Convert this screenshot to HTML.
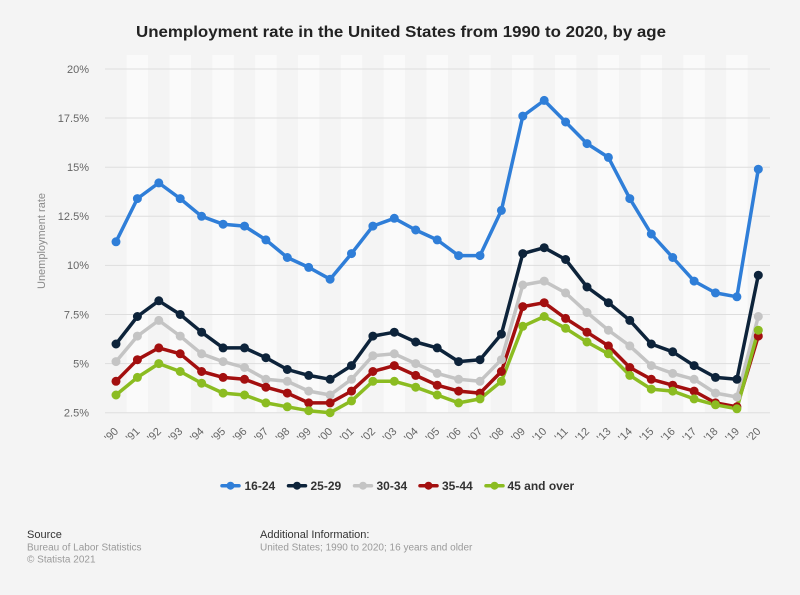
<!DOCTYPE html>
<html><head><meta charset="utf-8"><style>
html,body{margin:0;padding:0;background:#f4f4f4;}
svg{display:block;font-family:"Liberation Sans",Arial,sans-serif;}
</style></head><body>
<svg width="800" height="595" viewBox="0 0 800 595" xmlns="http://www.w3.org/2000/svg">
<rect x="0" y="0" width="800" height="595" fill="#f4f4f4"/>
<text x="401" y="37" text-anchor="middle" font-size="16" font-weight="bold" fill="#222" textLength="530" lengthAdjust="spacingAndGlyphs">Unemployment rate in the United States from 1990 to 2020, by age</text>

<!-- plot bands -->
<g fill="#fafafa">
<rect x="126.7" y="55" width="21.4" height="358"/>
<rect x="169.5" y="55" width="21.4" height="358"/>
<rect x="212.4" y="55" width="21.4" height="358"/>
<rect x="255.2" y="55" width="21.4" height="358"/>
<rect x="298.0" y="55" width="21.4" height="358"/>
<rect x="340.8" y="55" width="21.4" height="358"/>
<rect x="383.6" y="55" width="21.4" height="358"/>
<rect x="426.5" y="55" width="21.4" height="358"/>
<rect x="469.3" y="55" width="21.4" height="358"/>
<rect x="512.1" y="55" width="21.4" height="358"/>
<rect x="554.9" y="55" width="21.4" height="358"/>
<rect x="597.7" y="55" width="21.4" height="358"/>
<rect x="640.6" y="55" width="21.4" height="358"/>
<rect x="683.4" y="55" width="21.4" height="358"/>
<rect x="726.2" y="55" width="21.4" height="358"/>
</g>

<!-- grid -->
<g stroke="#dedede" stroke-width="1">
<line x1="105" y1="69" x2="770" y2="69"/>
<line x1="105" y1="118" x2="770" y2="118"/>
<line x1="105" y1="167.2" x2="770" y2="167.2"/>
<line x1="105" y1="216.3" x2="770" y2="216.3"/>
<line x1="105" y1="265.4" x2="770" y2="265.4"/>
<line x1="105" y1="314.5" x2="770" y2="314.5"/>
<line x1="105" y1="363.6" x2="770" y2="363.6"/>
<line x1="105" y1="412.7" x2="770" y2="412.7"/>
</g>

<!-- y labels -->
<g font-size="11" fill="#666" text-anchor="end">
<text x="89" y="73">20%</text>
<text x="89" y="122">17.5%</text>
<text x="89" y="171">15%</text>
<text x="89" y="220">12.5%</text>
<text x="89" y="269">10%</text>
<text x="89" y="318.5">7.5%</text>
<text x="89" y="367.5">5%</text>
<text x="89" y="416.5">2.5%</text>
</g>
<text transform="translate(45,241) rotate(-90)" text-anchor="middle" font-size="11" fill="#8a8a8a">Unemployment rate</text>

<!-- x labels -->
<g font-size="11" fill="#666" text-anchor="end">
<text transform="translate(119,432) rotate(-45)">'90</text>
<text transform="translate(140.4,432) rotate(-45)">'91</text>
<text transform="translate(161.8,432) rotate(-45)">'92</text>
<text transform="translate(183.2,432) rotate(-45)">'93</text>
<text transform="translate(204.6,432) rotate(-45)">'94</text>
<text transform="translate(226.1,432) rotate(-45)">'95</text>
<text transform="translate(247.5,432) rotate(-45)">'96</text>
<text transform="translate(268.9,432) rotate(-45)">'97</text>
<text transform="translate(290.3,432) rotate(-45)">'98</text>
<text transform="translate(311.7,432) rotate(-45)">'99</text>
<text transform="translate(333.1,432) rotate(-45)">'00</text>
<text transform="translate(354.5,432) rotate(-45)">'01</text>
<text transform="translate(375.9,432) rotate(-45)">'02</text>
<text transform="translate(397.3,432) rotate(-45)">'03</text>
<text transform="translate(418.7,432) rotate(-45)">'04</text>
<text transform="translate(440.2,432) rotate(-45)">'05</text>
<text transform="translate(461.6,432) rotate(-45)">'06</text>
<text transform="translate(483.0,432) rotate(-45)">'07</text>
<text transform="translate(504.4,432) rotate(-45)">'08</text>
<text transform="translate(525.8,432) rotate(-45)">'09</text>
<text transform="translate(547.2,432) rotate(-45)">'10</text>
<text transform="translate(568.6,432) rotate(-45)">'11</text>
<text transform="translate(590.0,432) rotate(-45)">'12</text>
<text transform="translate(611.4,432) rotate(-45)">'13</text>
<text transform="translate(632.8,432) rotate(-45)">'14</text>
<text transform="translate(654.3,432) rotate(-45)">'15</text>
<text transform="translate(675.7,432) rotate(-45)">'16</text>
<text transform="translate(697.1,432) rotate(-45)">'17</text>
<text transform="translate(718.5,432) rotate(-45)">'18</text>
<text transform="translate(739.9,432) rotate(-45)">'19</text>
<text transform="translate(761.3,432) rotate(-45)">'20</text>
</g>

<!-- series -->
<g fill="none" stroke-width="3.5" stroke-linejoin="round" stroke-linecap="round">
<polyline stroke="#2f7ed8" points="116.0,241.8 137.4,198.6 158.8,182.9 180.2,198.6 201.6,216.3 223.1,224.2 244.5,226.1 265.9,239.9 287.3,257.5 308.7,267.4 330.1,279.2 351.5,253.6 372.9,226.1 394.3,218.3 415.7,230.0 437.2,239.9 458.6,255.6 480.0,255.6 501.4,210.4 522.8,116.1 544.2,100.4 565.6,122.0 587.0,143.6 608.4,157.4 629.8,198.6 651.3,234.0 672.7,257.5 694.1,281.1 715.5,292.9 736.9,296.8 758.3,169.2"/>
<polyline stroke="#0d233a" points="116.0,344.0 137.4,316.5 158.8,300.8 180.2,314.5 201.6,332.2 223.1,347.9 244.5,347.9 265.9,357.7 287.3,369.5 308.7,375.4 330.1,379.3 351.5,365.6 372.9,336.1 394.3,332.2 415.7,342.0 437.2,347.9 458.6,361.6 480.0,359.7 501.4,334.1 522.8,253.6 544.2,247.7 565.6,259.5 587.0,287.0 608.4,302.7 629.8,320.4 651.3,344.0 672.7,351.8 694.1,365.6 715.5,377.4 736.9,379.3 758.3,275.2"/>
<polyline stroke="#c4c4c4" points="116.0,361.6 137.4,336.1 158.8,320.4 180.2,336.1 201.6,353.8 223.1,361.6 244.5,367.5 265.9,379.3 287.3,381.3 308.7,391.1 330.1,395.0 351.5,379.3 372.9,355.7 394.3,353.8 415.7,363.6 437.2,373.4 458.6,379.3 480.0,381.3 501.4,359.7 522.8,285.0 544.2,281.1 565.6,292.9 587.0,312.5 608.4,330.2 629.8,345.9 651.3,365.6 672.7,373.4 694.1,379.3 715.5,393.1 736.9,397.0 758.3,316.5"/>
<polyline stroke="#a30f0f" points="116.0,381.3 137.4,359.7 158.8,347.9 180.2,353.8 201.6,371.5 223.1,377.4 244.5,379.3 265.9,387.2 287.3,393.1 308.7,402.9 330.1,402.9 351.5,391.1 372.9,371.5 394.3,365.6 415.7,375.4 437.2,385.2 458.6,391.1 480.0,393.1 501.4,371.5 522.8,306.6 544.2,302.7 565.6,318.4 587.0,332.2 608.4,345.9 629.8,367.5 651.3,379.3 672.7,385.2 694.1,391.1 715.5,402.9 736.9,406.8 758.3,336.1"/>
<polyline stroke="#8bbc21" points="116.0,395.0 137.4,377.4 158.8,363.6 180.2,371.5 201.6,383.2 223.1,393.1 244.5,395.0 265.9,402.9 287.3,406.8 308.7,410.7 330.1,412.7 351.5,400.9 372.9,381.3 394.3,381.3 415.7,387.2 437.2,395.0 458.6,402.9 480.0,398.9 501.4,381.3 522.8,326.3 544.2,316.5 565.6,328.3 587.0,342.0 608.4,353.8 629.8,375.4 651.3,389.1 672.7,391.1 694.1,398.9 715.5,404.8 736.9,408.8 758.3,330.2"/>
</g>
<!-- markers: zero-length round-capped segments -->
<g fill="none" stroke-width="9" stroke-linecap="round">
<path stroke="#2f7ed8" d="M116.0,241.8h0M137.4,198.6h0M158.8,182.9h0M180.2,198.6h0M201.6,216.3h0M223.1,224.2h0M244.5,226.1h0M265.9,239.9h0M287.3,257.5h0M308.7,267.4h0M330.1,279.2h0M351.5,253.6h0M372.9,226.1h0M394.3,218.3h0M415.7,230.0h0M437.2,239.9h0M458.6,255.6h0M480.0,255.6h0M501.4,210.4h0M522.8,116.1h0M544.2,100.4h0M565.6,122.0h0M587.0,143.6h0M608.4,157.4h0M629.8,198.6h0M651.3,234.0h0M672.7,257.5h0M694.1,281.1h0M715.5,292.9h0M736.9,296.8h0M758.3,169.2h0"/>
<path stroke="#0d233a" d="M116.0,344.0h0M137.4,316.5h0M158.8,300.8h0M180.2,314.5h0M201.6,332.2h0M223.1,347.9h0M244.5,347.9h0M265.9,357.7h0M287.3,369.5h0M308.7,375.4h0M330.1,379.3h0M351.5,365.6h0M372.9,336.1h0M394.3,332.2h0M415.7,342.0h0M437.2,347.9h0M458.6,361.6h0M480.0,359.7h0M501.4,334.1h0M522.8,253.6h0M544.2,247.7h0M565.6,259.5h0M587.0,287.0h0M608.4,302.7h0M629.8,320.4h0M651.3,344.0h0M672.7,351.8h0M694.1,365.6h0M715.5,377.4h0M736.9,379.3h0M758.3,275.2h0"/>
<path stroke="#c4c4c4" d="M116.0,361.6h0M137.4,336.1h0M158.8,320.4h0M180.2,336.1h0M201.6,353.8h0M223.1,361.6h0M244.5,367.5h0M265.9,379.3h0M287.3,381.3h0M308.7,391.1h0M330.1,395.0h0M351.5,379.3h0M372.9,355.7h0M394.3,353.8h0M415.7,363.6h0M437.2,373.4h0M458.6,379.3h0M480.0,381.3h0M501.4,359.7h0M522.8,285.0h0M544.2,281.1h0M565.6,292.9h0M587.0,312.5h0M608.4,330.2h0M629.8,345.9h0M651.3,365.6h0M672.7,373.4h0M694.1,379.3h0M715.5,393.1h0M736.9,397.0h0M758.3,316.5h0"/>
<path stroke="#a30f0f" d="M116.0,381.3h0M137.4,359.7h0M158.8,347.9h0M180.2,353.8h0M201.6,371.5h0M223.1,377.4h0M244.5,379.3h0M265.9,387.2h0M287.3,393.1h0M308.7,402.9h0M330.1,402.9h0M351.5,391.1h0M372.9,371.5h0M394.3,365.6h0M415.7,375.4h0M437.2,385.2h0M458.6,391.1h0M480.0,393.1h0M501.4,371.5h0M522.8,306.6h0M544.2,302.7h0M565.6,318.4h0M587.0,332.2h0M608.4,345.9h0M629.8,367.5h0M651.3,379.3h0M672.7,385.2h0M694.1,391.1h0M715.5,402.9h0M736.9,406.8h0M758.3,336.1h0"/>
<path stroke="#8bbc21" d="M116.0,395.0h0M137.4,377.4h0M158.8,363.6h0M180.2,371.5h0M201.6,383.2h0M223.1,393.1h0M244.5,395.0h0M265.9,402.9h0M287.3,406.8h0M308.7,410.7h0M330.1,412.7h0M351.5,400.9h0M372.9,381.3h0M394.3,381.3h0M415.7,387.2h0M437.2,395.0h0M458.6,402.9h0M480.0,398.9h0M501.4,381.3h0M522.8,326.3h0M544.2,316.5h0M565.6,328.3h0M587.0,342.0h0M608.4,353.8h0M629.8,375.4h0M651.3,389.1h0M672.7,391.1h0M694.1,398.9h0M715.5,404.8h0M736.9,408.8h0M758.3,330.2h0"/>
</g>

<!-- legend -->
<g stroke-width="3.5" stroke-linecap="round">
<line x1="222" y1="485.7" x2="239" y2="485.7" stroke="#2f7ed8"/>
<line x1="288.5" y1="485.7" x2="305.5" y2="485.7" stroke="#0d233a"/>
<line x1="354.5" y1="485.7" x2="371.5" y2="485.7" stroke="#c4c4c4"/>
<line x1="420" y1="485.7" x2="437" y2="485.7" stroke="#a30f0f"/>
<line x1="486" y1="485.7" x2="503" y2="485.7" stroke="#8bbc21"/>
</g>
<g>
<circle cx="230.5" cy="485.7" r="4" fill="#2f7ed8"/>
<circle cx="297" cy="485.7" r="4" fill="#0d233a"/>
<circle cx="363" cy="485.7" r="4" fill="#c4c4c4"/>
<circle cx="428.5" cy="485.7" r="4" fill="#a30f0f"/>
<circle cx="494.5" cy="485.7" r="4" fill="#8bbc21"/>
</g>
<g font-size="12" font-weight="bold" fill="#333">
<text x="244.5" y="490">16-24</text>
<text x="310.5" y="490">25-29</text>
<text x="376.5" y="490">30-34</text>
<text x="442" y="490">35-44</text>
<text x="507.5" y="490">45 and over</text>
</g>

<!-- footer -->
<text x="27" y="538" font-size="11" fill="#333">Source</text>
<text x="27" y="550.5" font-size="10" fill="#9a9a9a">Bureau of Labor Statistics</text>
<text x="27" y="562.5" font-size="10" fill="#9a9a9a">© Statista 2021</text>
<text x="260" y="538" font-size="11" fill="#333">Additional Information:</text>
<text x="260" y="550.5" font-size="10" fill="#9a9a9a">United States; 1990 to 2020; 16 years and older</text>
</svg>
</body></html>
